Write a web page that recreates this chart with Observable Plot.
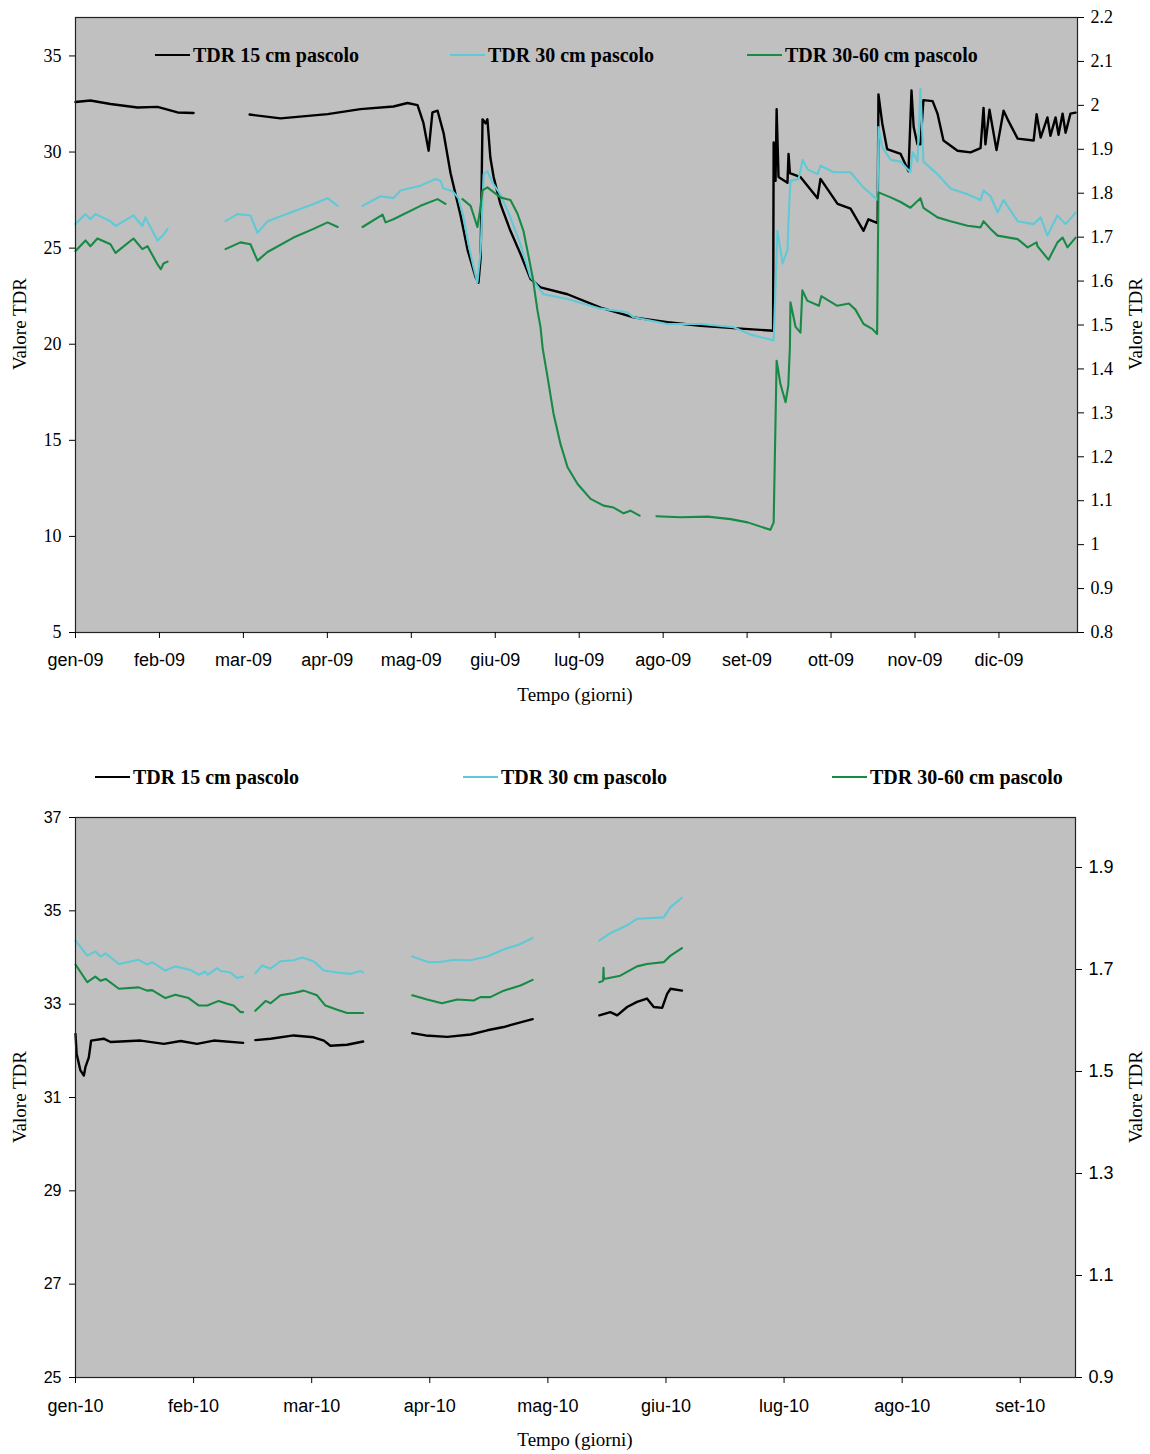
<!DOCTYPE html>
<html>
<head>
<meta charset="utf-8">
<script src="https://cdn.jsdelivr.net/npm/d3@7"></script>
<script src="https://cdn.jsdelivr.net/npm/@observablehq/plot@0.6"></script>
<style>
  body { margin: 0; background: #fff; }
  #wrap { position: relative; width: 1150px; height: 1454px; overflow: hidden; }
  .abs { position: absolute; }
  .ttl { font-family: "Liberation Serif", serif; font-size: 19px; color: #000; white-space: nowrap; }
  .leg { font-family: "Liberation Serif", serif; font-weight: bold; font-size: 20px; color: #000; white-space: nowrap; display: flex; align-items: center; }
  .leg span.ln { display: inline-block; width: 35px; height: 0; border-top: 2px solid; margin-right: 3px; }
</style>
</head>
<body>
<div id="wrap"></div>
<script>
// ---------------- DATA ----------------
const seriesNames = ["TDR 15 cm pascolo", "TDR 30 cm pascolo", "TDR 30-60 cm pascolo"];
const seriesColors = ["#000000", "#5fc9d6", "#178a45"];

// 2009: [day since 1 Jan 2009, value]; null = gap in record
const tdr15_2009 = [[0,32.6],[5.5,32.68],[12.9,32.5],[22.9,32.32],[30.3,32.35],[37.7,32.06],[43.6,32.03],null,
 [64.3,31.95],[75.7,31.75],[93.1,31.97],[105.2,32.23],[117.4,32.37],[122.6,32.55],[126.3,32.44],[128.5,31.5],[130.4,30.07],[131.8,32.06],[133.7,32.15],[135.9,31.0],[138.5,28.9],[142.2,26.7],[144.8,24.9],[147.7,23.5],[148.8,23.2],[149.6,24.5],[150.3,31.7],[151.4,31.5],[152.1,31.7],[153.2,29.7],[154.4,28.7],[156.9,27.3],[160.6,25.9],[164.3,24.7],[168,23.4],[171.7,22.96],[181.7,22.6],[193.9,21.9],[206.1,21.4],[218.6,21.14],[230.8,20.96],[243,20.84],[257.6,20.7],
 [257.8,30.5],[258.5,28.5],[258.9,32.23],[259.6,28.7],[262.9,28.4],[263.3,29.9],[263.8,28.9],[267.7,28.7],[274,27.6],[275.1,28.6],[281.4,27.3],[286.2,27.05],[291,25.9],[292.8,26.5],[296.2,26.3],[296.5,33.0],[297.9,31.5],[299.7,30.15],[304.7,29.9],[307.6,29.0],[308.7,33.2],[309.5,31.3],[310.9,30.4],[312,30.4],[313.1,32.7],[316.5,32.65],[318.3,32.0],[320.5,30.6],[325.7,30.07],[330.5,29.98],[334.2,30.2],[335.3,32.3],[336,30.4],[337.5,32.2],[340.1,30.1],[342.7,32.15],[344.2,31.7],[347.9,30.7],[353.8,30.6],[354.9,31.97],[356.4,30.75],[358.9,31.8],[360,30.84],[361.9,31.8],[363,30.9],[364.5,32.0],[365.6,31.0],[367.4,32.0],[369.3,32.05]];

const tdr30_2009 = [[0,26.25],[3.7,26.77],[5.5,26.5],[7.4,26.77],[12.9,26.4],[14.8,26.15],[21.4,26.7],[24.7,26.15],[25.8,26.6],[30.3,25.4],[32.5,25.7],[34,26.0],null,
 [55.4,26.4],[59.8,26.77],[64.6,26.7],[67.2,25.8],[70.9,26.4],[80.5,26.9],[87.9,27.3],[93.1,27.6],[96.8,27.2],null,
 [106,27.2],[112.6,27.7],[117.4,27.6],[120,28.0],[127.4,28.25],[132.9,28.6],[134.8,28.5],[135.9,28.1],[138.5,28.0],[139.6,27.9],[141.4,27.6],[143.3,26.6],[145.1,25.2],[147,24.0],[148.4,23.2],[149.6,24.9],[150.7,28.85],[152.1,29.0],[154,28.4],[156.9,27.8],[160.6,26.6],[164.3,25.2],[168,23.5],[172.8,22.6],[181.7,22.35],[187.6,22.1],[193.9,21.85],[203.8,21.66],[206.1,21.4],[218.6,21.05],[230.8,21.05],[243,20.88],[249.3,20.5],[257.8,20.2],
 [259.2,25.9],[261.1,24.2],[262.9,24.9],[263.3,26.5],[264,28.5],[267,28.6],[268.5,29.6],[270.3,29.1],[274,28.85],[275.1,29.3],[279.9,28.95],[286.2,28.95],[291,28.15],[296.2,27.5],[296.5,31.3],[297.9,30.25],[301,29.6],[304.7,29.5],[308.3,28.95],[309.1,30.0],[310.9,29.5],[312,33.3],[313.1,29.5],[318.3,28.85],[323.1,28.1],[329.4,27.8],[334.2,27.5],[335.3,28.0],[337.9,27.7],[340.5,26.86],[342.7,27.5],[347.9,26.4],[353.8,26.25],[356.4,26.6],[358.9,25.65],[362.6,26.7],[365.6,26.25],[369.3,26.85]];

const tdr3060_2009 = [[0,24.85],[3.7,25.4],[5.5,25.1],[8.1,25.5],[12.9,25.2],[14.8,24.75],[21.4,25.5],[24.7,24.95],[26.6,25.1],[30.3,24.15],[31.5,23.9],[32.5,24.2],[34,24.3],null,
 [55.4,24.95],[60.9,25.3],[64.6,25.2],[67.2,24.35],[70.9,24.8],[80.5,25.55],[87.9,26.0],[93.1,26.34],[96.8,26.1],null,
 [106,26.1],[113.4,26.74],[114.5,26.34],[117.4,26.5],[127.4,27.2],[133.7,27.55],[136.6,27.3],null,
 [142.9,27.55],[145.9,27.2],[148.4,26.1],[149.2,26.8],[150.3,28.0],[152.1,28.16],[156.9,27.64],[160.6,27.5],[163.2,26.8],[165.4,25.9],[166.9,24.85],[168.8,23.5],[170.6,21.75],[171.7,20.9],[172.5,19.8],[174.3,18.3],[176.5,16.4],[179.1,14.8],[181.7,13.6],[185.4,12.73],[190.2,11.95],[195,11.6],[198.7,11.5],[202.4,11.2],[204.9,11.34],[208.3,11.08],null,
 [214.5,11.05],[223.4,11.0],[233.4,11.03],[241.9,10.9],[248.2,10.73],[256.6,10.34],[257.8,10.73],[258.9,19.14],[260.3,17.93],[262.2,16.98],[263.2,17.84],[263.8,19.84],[264,22.18],[265.9,20.9],[267.7,20.6],[268.4,22.8],[270.2,22.27],[274.5,22.0],[275.4,22.5],[281.3,22.0],[285.6,22.12],[288,21.8],[291,21.05],[294.2,20.8],[296,20.53],
 [296.5,27.9],[301,27.64],[304.7,27.4],[308.3,27.1],[312,27.6],[313.1,27.1],[318.3,26.6],[323.1,26.4],[329.4,26.16],[334.2,26.08],[335.3,26.4],[337.9,26.0],[340.5,25.65],[347.9,25.47],[351.6,25.04],[354.9,25.3],[355.2,25.1],[359.3,24.4],[362.6,25.3],[364.5,25.55],[366.3,25.04],[369.3,25.55]];

// 2010: [day since 1 Jan 2010, value]
const tdr15_2010 = [[0,32.36],[0.3,31.93],[1.3,31.58],[2.2,31.47],[2.6,31.65],[3.5,31.86],[4.1,32.22],[7.4,32.26],[9.2,32.19],[17.1,32.22],[23.2,32.15],[27.6,32.21],[31.9,32.15],[36.3,32.22],[44,32.17],null,
 [47.2,32.23],[51.2,32.26],[57.3,32.33],[62.5,32.29],[65.2,32.22],[66.9,32.11],[71.3,32.13],[75.5,32.2],null,
 [88.4,32.38],[91.9,32.33],[97.6,32.3],[103.7,32.35],[108.1,32.44],[112.4,32.51],[116.8,32.61],[120,32.68],null,
 [137.5,32.76],[140.4,32.83],[142.2,32.76],[144.8,32.94],[147.4,33.05],[150,33.12],[151.8,32.94],[154,32.92],[155.3,33.22],[156.2,33.33],[159.2,33.29]];

const tdr30_2010 = [[0,34.36],[3.1,34.04],[5.2,34.13],[6.6,34.02],[7.9,34.09],[11.4,33.86],[16.6,33.95],[18.8,33.85],[20.1,33.9],[23.6,33.72],[26.2,33.81],[30.2,33.73],[32.4,33.63],[34.1,33.7],[34.6,33.63],[37.2,33.77],[38.1,33.71],[40.7,33.68],[42.4,33.56],[44,33.59],null,
 [47.2,33.66],[49,33.83],[51.2,33.76],[53.8,33.92],[57.3,33.94],[59.5,34.0],[62.5,33.92],[65.2,33.72],[68.7,33.68],[72.2,33.65],[74.8,33.71],[75.5,33.68],null,
 [88.4,34.02],[92.7,33.9],[95.4,33.9],[99.3,33.95],[103.7,33.94],[108.1,34.02],[112.4,34.17],[116.8,34.29],[120,34.42],null,
 [137.5,34.36],[140.4,34.52],[144.8,34.69],[147.4,34.83],[151.8,34.85],[154.4,34.86],[156.2,35.08],[159.2,35.28]];

const tdr3060_2010 = [[0,33.85],[3.1,33.47],[5.2,33.59],[6.6,33.5],[7.9,33.54],[11.4,33.33],[16.6,33.36],[18.8,33.29],[20.1,33.3],[23.6,33.13],[26.2,33.2],[29.7,33.13],[32.4,32.97],[34.6,32.97],[37.6,33.07],[39.8,33.01],[41.5,32.97],[43.3,32.83],[44,32.83],null,
 [47.2,32.86],[49.9,33.07],[51.2,33.02],[53.8,33.19],[57.3,33.24],[59.9,33.29],[63.4,33.19],[65.6,32.97],[68.7,32.88],[71.3,32.81],[75.5,32.81],null,
 [88.4,33.19],[92.3,33.1],[96.2,33.02],[100.2,33.1],[104.5,33.08],[106.3,33.15],[108.9,33.15],[112.4,33.29],[116.8,33.4],[120,33.52],null,
 [137.5,33.47],[138.5,33.5],[138.6,33.78],[138.7,33.54],[143,33.61],[147.4,33.81],[150,33.86],[154.4,33.9],[156.2,34.04],[159.2,34.2]];

// Axis ticks
const xTickDays = [0,31,62,93,124,155,186,217,248,279,310,341];
const xLabels2009 = ["gen-09","feb-09","mar-09","apr-09","mag-09","giu-09","lug-09","ago-09","set-09","ott-09","nov-09","dic-09"];
const xLabels2010 = ["gen-10","feb-10","mar-10","apr-10","mag-10","giu-10","lug-10","ago-10","set-10"];
const yTicksTop = [5,10,15,20,25,30,35];
const yRightTop = [0.8,0.9,1.0,1.1,1.2,1.3,1.4,1.5,1.6,1.7,1.8,1.9,2.0,2.1,2.2];
const yTicksBot = [25,27,29,31,33,35,37];
const yRightBot = [0.9,1.1,1.3,1.5,1.7,1.9];

// ---------------- BUILD ----------------
function toRows(arrs) {
  const rows = [];
  arrs.forEach((arr, si) => {
    arr.forEach(p => {
      if (p === null) rows.push({d: NaN, v: NaN, s: seriesNames[si]});
      else rows.push({d: p[0], v: p[1], s: seriesNames[si]});
    });
  });
  return rows;
}
const rows2009 = toRows([tdr15_2009, tdr30_2009, tdr3060_2009]);
const rows2010 = toRows([tdr15_2010, tdr30_2010, tdr3060_2010]);
const fmtR = r => String(+r.toFixed(1));

function lineMarks(rows) {
  return seriesNames.map((name, i) => Plot.line(rows.filter(r => r.s === name), {
    x: "d", y: "v", stroke: seriesColors[i],
    strokeWidth: i === 0 ? 2.4 : 2.1, strokeLinejoin: "round"
  }));
}

// Top chart
const topToLeft = r => 5 + (r - 0.8) * (32 / 1.4);
const topFromLeft = y => 0.8 + (y - 5) * (1.4 / 32);
const topChart = Plot.plot({
  width: 1150, height: 720,
  marginTop: 17, marginBottom: 88, marginLeft: 75, marginRight: 73,
  style: {fontFamily: "Liberation Sans, Arial, sans-serif", fontSize: "17px", background: "transparent", color: "#000"},
  x: {domain: [0, 370]},
  y: {domain: [5, 37]},
  marks: [
    Plot.frame({fill: "#c0c0c0"}),
    ...lineMarks(rows2009),
    Plot.frame({stroke: "#222", strokeWidth: 1.2}),
    Plot.axisX({ticks: xTickDays, tickSize: 6, tickPadding: 15, label: null,
      tickFormat: d => xLabels2009[xTickDays.indexOf(d)], fontSize: 18}),
    Plot.axisY({anchor: "left", ticks: yTicksTop, tickSize: 6, tickPadding: 8, label: null,
      fontFamily: "Liberation Serif, serif", fontSize: 18}),
    Plot.axisY({anchor: "right", ticks: yRightTop.map(topToLeft), tickSize: 6, tickPadding: 7, label: null,
      tickFormat: d => fmtR(topFromLeft(d)), fontFamily: "Liberation Serif, serif", fontSize: 18})
  ]
});

// Bottom chart
const botToLeft = r => 25 + (r - 0.9) * (12 / 1.098);
const botFromLeft = y => 0.9 + (y - 25) * (1.098 / 12);
const botChart = Plot.plot({
  width: 1150, height: 714,
  marginTop: 77, marginBottom: 77, marginLeft: 75, marginRight: 75,
  style: {fontFamily: "Liberation Sans, Arial, sans-serif", fontSize: "17px", background: "transparent", color: "#000"},
  x: {domain: [0, 262.5]},
  y: {domain: [25, 37]},
  marks: [
    Plot.frame({fill: "#c0c0c0"}),
    ...lineMarks(rows2010),
    Plot.frame({stroke: "#222", strokeWidth: 1.2}),
    Plot.axisX({ticks: xTickDays.slice(0, 9), tickSize: 6, tickPadding: 16, label: null,
      tickFormat: d => xLabels2010[xTickDays.indexOf(d)], fontSize: 18}),
    Plot.axisY({anchor: "left", ticks: yTicksBot, tickSize: 6, tickPadding: 8, label: null, fontSize: 16}),
    Plot.axisY({anchor: "right", ticks: yRightBot.map(botToLeft), tickSize: 6, tickPadding: 7, label: null,
      tickFormat: d => fmtR(botFromLeft(d)), fontSize: 18})
  ]
});

const wrap = document.getElementById("wrap");
function place(el, left, top) { el.classList.add("abs"); el.style.left = left + "px"; el.style.top = top + "px"; wrap.appendChild(el); return el; }
place(topChart, 0, 0);
place(botChart, 0, 740);

function legend(xs, yCenter) {
  seriesNames.forEach((n, i) => {
    const div = document.createElement("div");
    div.className = "leg";
    div.innerHTML = `<span class="ln" style="border-color:${seriesColors[i]}"></span>${n}`;
    place(div, xs[i], yCenter - 13);
    div.style.height = "26px";
  });
}
legend([155, 450, 747], 55);
legend([95, 463, 832], 777);

function title(text, cx, cy, rotate) {
  const div = document.createElement("div");
  div.className = "ttl";
  div.textContent = text;
  place(div, cx, cy);
  div.style.transform = `translate(-50%,-50%)${rotate ? " rotate(-90deg)" : ""}`;
}
title("Tempo (giorni)", 575, 695, false);
title("Tempo (giorni)", 575, 1440, false);
title("Valore TDR", 20, 324, true);
title("Valore TDR", 1136, 324, true);
title("Valore TDR", 20, 1097, true);
title("Valore TDR", 1136, 1097, true);
</script>
</body>
</html>
